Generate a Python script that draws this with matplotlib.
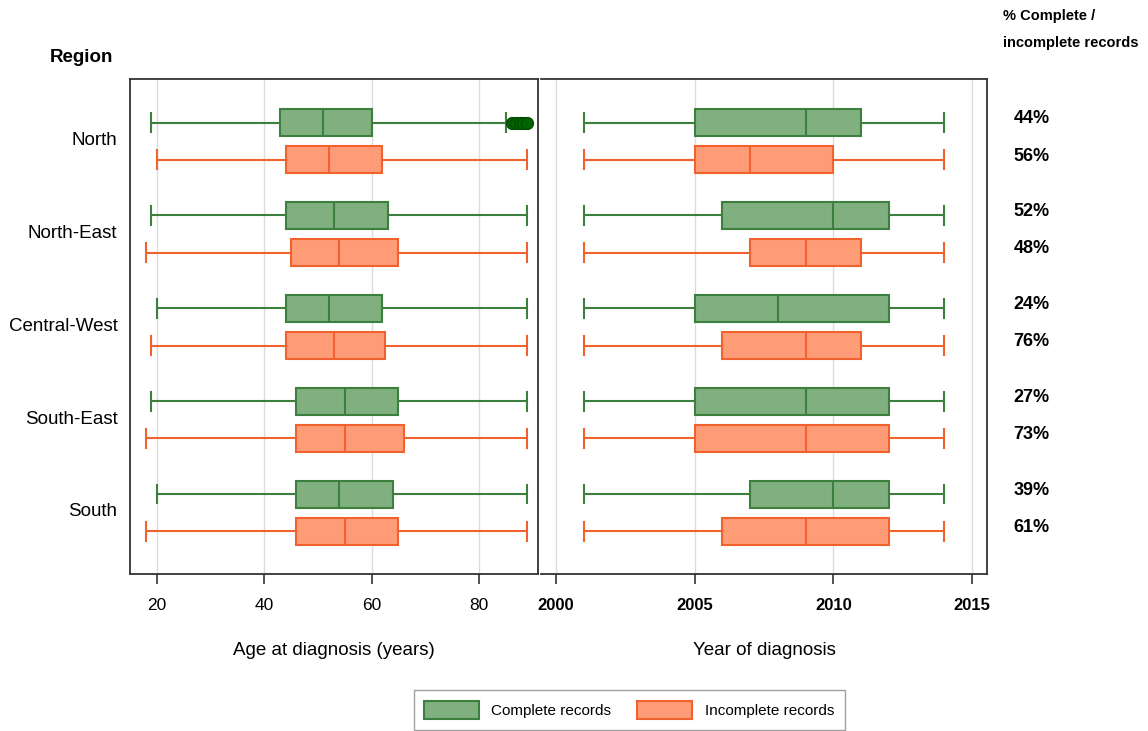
import matplotlib
matplotlib.use("Agg")
import matplotlib.pyplot as plt
from matplotlib.patches import Patch

plt.rcParams["font.family"] = ["Liberation Sans", "DejaVu Sans"]

regions = ["North", "North-East", "Central-West", "South-East", "South"]

# age at diagnosis: (low whisker, q1, median, q3, high whisker)
age_complete = [(19, 43, 51, 60, 85), (19, 44, 53, 63, 89), (20, 44, 52, 62, 89),
                (19, 46, 55, 65, 89), (20, 46, 54, 64, 89)]
age_incomplete = [(20, 44, 52, 62, 89), (18, 45, 54, 65, 89), (19, 44, 53, 62.5, 89),
                  (18, 46, 55, 66, 89), (18, 46, 55, 65, 89)]
age_outliers_north = [86.2, 86.9, 87.6, 88.3, 89.0]

# year of diagnosis
year_complete = [(2001, 2005, 2009, 2011, 2014), (2001, 2006, 2010, 2012, 2014),
                 (2001, 2005, 2008, 2012, 2014), (2001, 2005, 2009, 2012, 2014),
                 (2001, 2007, 2010, 2012, 2014)]
year_incomplete = [(2001, 2005, 2007, 2010, 2014), (2001, 2007, 2009, 2011, 2014),
                   (2001, 2006, 2009, 2011, 2014), (2001, 2005, 2009, 2012, 2014),
                   (2001, 2006, 2009, 2012, 2014)]

pct_complete = [44, 52, 24, 27, 39]
pct_incomplete = [56, 48, 76, 73, 61]

GREEN_FILL = "#80b080"
GREEN_EDGE = "#3d7f3d"
ORANGE_FILL = "#ff9c78"
ORANGE_EDGE = "#f2622e"


def make_stats(rows, fliers=None):
    out = []
    for i, (lo, q1, med, q3, hi) in enumerate(rows):
        out.append(dict(whislo=lo, q1=q1, med=med, q3=q3, whishi=hi,
                        fliers=(fliers if (fliers is not None and i == 0) else [])))
    return out


def draw(ax, stats, pos, fill, edge):
    ax.bxp(stats, positions=pos, vert=False, widths=0.29, capwidths=0.2,
           patch_artist=True, showfliers=True,
           boxprops=dict(facecolor=fill, edgecolor=edge, linewidth=1.5),
           medianprops=dict(color=edge, linewidth=1.5),
           whiskerprops=dict(color=edge, linewidth=1.5),
           capprops=dict(color=edge, linewidth=1.5),
           flierprops=dict(marker="o", markerfacecolor="#006400",
                           markeredgecolor="#004d00", markersize=8.5))


fig = plt.figure(figsize=(11.48, 7.31), dpi=100)
ax1 = fig.add_axes([0.1132, 0.2148, 0.3554, 0.6772])
ax2 = fig.add_axes([0.4713, 0.2148, 0.3885, 0.6772])

pos_c = [i - 0.2 for i in range(len(regions))]
pos_i = [i + 0.2 for i in range(len(regions))]

draw(ax1, make_stats(age_complete, age_outliers_north), pos_c, GREEN_FILL, GREEN_EDGE)
draw(ax1, make_stats(age_incomplete), pos_i, ORANGE_FILL, ORANGE_EDGE)
draw(ax2, make_stats(year_complete), pos_c, GREEN_FILL, GREEN_EDGE)
draw(ax2, make_stats(year_incomplete), pos_i, ORANGE_FILL, ORANGE_EDGE)

for ax in (ax1, ax2):
    ax.set_ylim(4.66, -0.67)
    ax.grid(axis="x", color="#dcdcdc", linewidth=1)
    ax.set_axisbelow(True)
    for s in ax.spines.values():
        s.set_color("#333333")
        s.set_linewidth(1.3)
    ax.tick_params(axis="x", length=7, width=1.2, color="#333333", pad=10)

ax1.set_xlim(15, 91)
ax1.set_xticks([20, 40, 60, 80])
ax1.set_xticklabels(["20", "40", "60", "80"], fontsize=12.5)
ax1.set_yticks([p - 0.03 for p in range(len(regions))])
ax1.set_yticklabels(regions, fontsize=13.5)
ax1.tick_params(axis="y", length=0, pad=9)
ax1.set_xlabel("Age at diagnosis (years)", fontsize=13.5, labelpad=21)

ax2.set_xlim(1999.46, 2015.54)
ax2.set_xticks([2000, 2005, 2010, 2015])
ax2.set_xticklabels(["2000", "2005", "2010", "2015"], fontsize=12, fontweight="bold")
ax2.set_yticks([])
ax2.spines["left"].set_visible(False)
ax2.set_xlabel("Year of diagnosis", fontsize=13.5, labelpad=21)

# share of complete / incomplete records per region
for i in range(len(regions)):
    ax2.text(1.10, pos_c[i] - 0.04, f"{pct_complete[i]}%", transform=ax2.get_yaxis_transform(),
             ha="center", va="center", fontsize=13, fontweight="bold")
    ax2.text(1.10, pos_i[i] - 0.04, f"{pct_incomplete[i]}%", transform=ax2.get_yaxis_transform(),
             ha="center", va="center", fontsize=13, fontweight="bold")

fig.text(0.874, 0.988, "% Complete /\nincomplete records", ha="left", va="top",
         fontsize=10.5, fontweight="bold", linespacing=2.2)
fig.text(0.043, 0.922, "Region", ha="left", va="center", fontsize=13.5, fontweight="bold")

handles = [Patch(facecolor=GREEN_FILL, edgecolor=GREEN_EDGE, linewidth=1.5, label="Complete records"),
           Patch(facecolor=ORANGE_FILL, edgecolor=ORANGE_EDGE, linewidth=1.5, label="Incomplete records")]
fig.legend(handles=handles, loc="upper center", bbox_to_anchor=(0.548, 0.056), ncol=2,
           fontsize=11, frameon=True, fancybox=False, edgecolor="#888888",
           handlelength=3.6, handleheight=1.5, handletextpad=0.8, columnspacing=1.7,
           borderpad=0.7, borderaxespad=0)

fig.savefig("out.png", dpi=100)
